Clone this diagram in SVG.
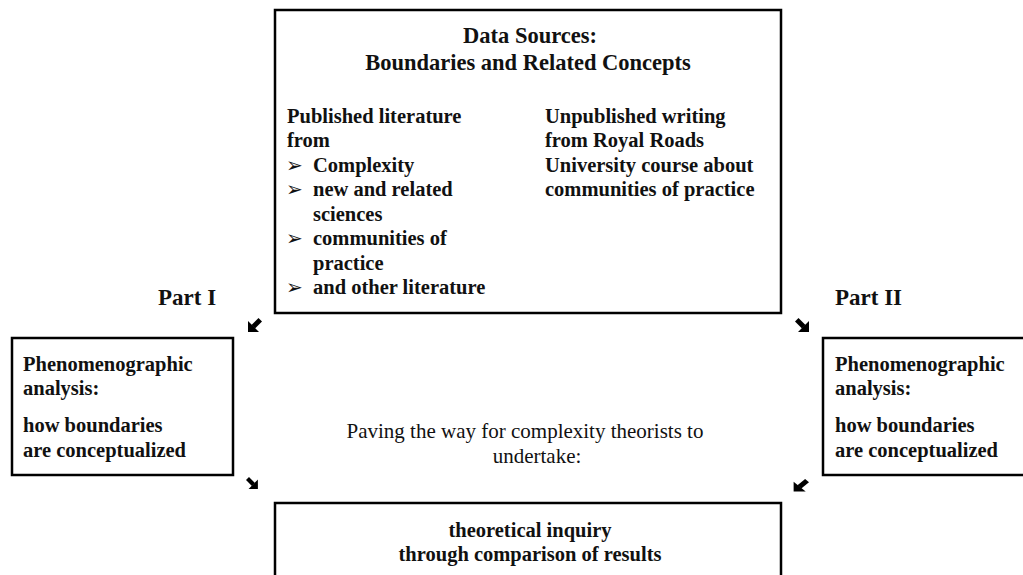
<svg xmlns="http://www.w3.org/2000/svg" width="1023" height="575" viewBox="0 0 1023 575">
<style>
.box{fill:#fff;stroke:#000;stroke-width:2.5}
.b{font-family:"Liberation Serif","Times New Roman",serif;font-weight:bold;font-size:20.5px;fill:#111}
.t{font-family:"Liberation Serif","Times New Roman",serif;font-weight:bold;font-size:22.5px;fill:#111}
.p{font-family:"Liberation Serif","Times New Roman",serif;font-weight:bold;font-size:23px;fill:#111}
.r{font-family:"Liberation Serif","Times New Roman",serif;font-size:21px;fill:#111}
.bl{font-family:"DejaVu Sans",sans-serif;font-size:20px;fill:#111}
.c{text-anchor:middle}
</style>
<defs>
<g id="arr">
<polygon points="0,3.5 3.5,0 10.5,7 7,10.5" fill="#000"/>
<polygon points="14,14 14,3 3,14" fill="#000"/>
</g>
</defs>
<rect width="1023" height="575" fill="#fff"/>
<g id="sources">
<rect class="box" x="275" y="10" width="506" height="303"/>
<text class="t c" x="530" y="43">Data Sources:</text>
<text class="t c" x="528" y="70">Boundaries and Related Concepts</text>
<text class="b" x="287" y="123">Published literature</text>
<text class="b" x="287" y="147">from</text>
<text class="bl" x="286" y="172">➢</text>
<text class="b" x="313" y="172">Complexity</text>
<text class="bl" x="286" y="196">➢</text>
<text class="b" x="313" y="196">new and related</text>
<text class="b" x="313" y="221">sciences</text>
<text class="bl" x="286" y="245">➢</text>
<text class="b" x="313" y="245">communities of</text>
<text class="b" x="313" y="270">practice</text>
<text class="bl" x="286" y="294">➢</text>
<text class="b" x="313" y="294">and other literature</text>
<text class="b" x="545" y="123">Unpublished writing</text>
<text class="b" x="545" y="147">from Royal Roads</text>
<text class="b" x="545" y="172">University course about</text>
<text class="b" x="545" y="196">communities of practice</text>
</g>
<g id="part1-label"><text class="p" x="158" y="305">Part I</text></g>
<g id="part2-label"><text class="p" x="835" y="305">Part II</text></g>
<g id="analysis1">
<rect class="box" x="12" y="338" width="221" height="137"/>
<text class="b" x="23" y="371">Phenomenographic</text>
<text class="b" x="23" y="395">analysis:</text>
<text class="b" x="23" y="432">how boundaries</text>
<text class="b" x="23" y="457">are conceptualized</text>
</g>
<g id="analysis2">
<rect class="box" x="823" y="338" width="220" height="137"/>
<text class="b" x="835" y="371">Phenomenographic</text>
<text class="b" x="835" y="395">analysis:</text>
<text class="b" x="835" y="432">how boundaries</text>
<text class="b" x="835" y="457">are conceptualized</text>
</g>
<g id="paving">
<text class="r c" x="525" y="438">Paving the way for complexity theorists to</text>
<text class="r c" x="537" y="463">undertake:</text>
</g>
<g id="inquiry">
<rect class="box" x="275" y="503" width="506" height="90"/>
<text class="b c" x="530" y="537">theoretical inquiry</text>
<text class="b c" x="530" y="561">through comparison of results</text>
</g>
<g id="connectors">
<use href="#arr" transform="translate(262,318) scale(-1,1)"/>
<use href="#arr" transform="translate(795,318)"/>
<use href="#arr" transform="translate(246,477) scale(0.85)"/>
<use href="#arr" transform="translate(809,479) scale(-1.1,0.9)"/>
</g>
</svg>
